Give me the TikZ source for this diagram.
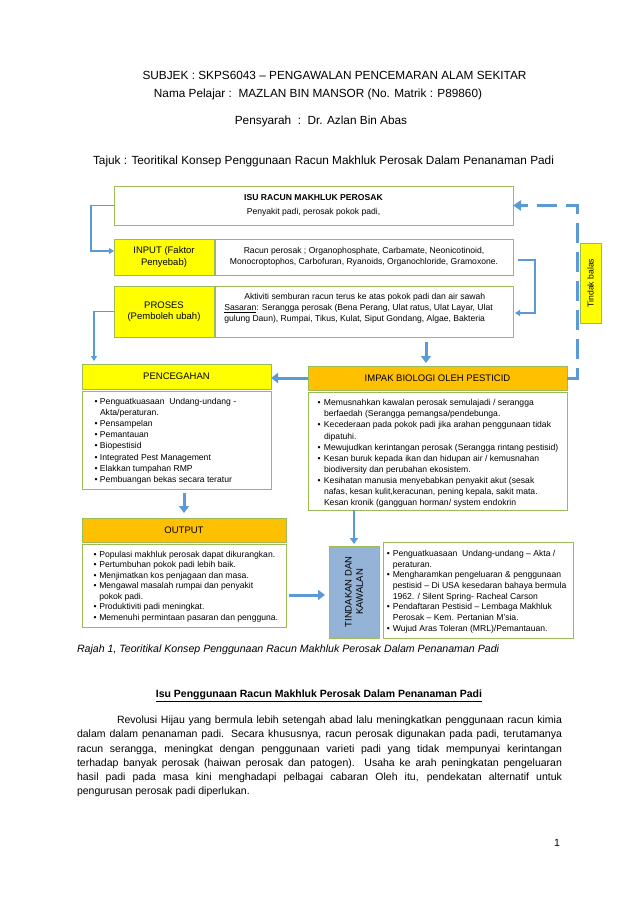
\documentclass[tikz,border=0pt]{standalone}
\usepackage{fontspec}
\setmainfont{Liberation Sans}
\usetikzlibrary{arrows.meta,calc}
\definecolor{yel}{HTML}{FFFF00}
\definecolor{org}{HTML}{FFC000}
\definecolor{grn}{HTML}{9BBB59}
\definecolor{blu}{HTML}{5B9BD5}
\definecolor{tkb}{HTML}{95B3D7}
\newlength\bhang
\newcommand\bitem[1]{\par\hangindent=\bhang\hangafter=1\noindent\makebox[\bhang][l]{\textbullet}#1}
\newcommand\lst[4]{\begin{minipage}[t]{#1}\raggedright\fontsize{8.6}{#2}\selectfont\setlength\bhang{#3}#4\par\end{minipage}}
\newcommand\fh{\fontsize{11.8}{14}\selectfont}
\newcommand\fbody{\fontsize{10.5}{14.2}\selectfont}
\newcommand\fl{\fontsize{9.5}{11.2}\selectfont}
\begin{document}
\begin{tikzpicture}[x=1pt,y=-1pt,
  bx/.style={draw=grn, line width=0.9pt, inner sep=0pt, outer sep=0pt, align=center},
  txt/.style={inner sep=0pt, outer sep=0pt},
  thinarr/.style={draw=blu, line width=1.5pt, -{Triangle[width=6pt,length=5pt]}},
  fatarr/.style={draw=blu, line width=3pt, -{Triangle[width=10pt,length=7pt]}},
  medarr/.style={draw=blu, line width=2.2pt, -{Triangle[width=8pt,length=6pt]}},
  dasharr/.style={draw=blu, line width=3pt, dash pattern=on 20pt off 9pt, -{Triangle[width=10pt,length=8pt]}}]
\fill[white] (0,0) rectangle (638,903);
\path[use as bounding box] (0,0) rectangle (638,903);

% header
\node[txt] (subj) at (334.5,75) {\fh SUBJEK : SKPS6043 – PENGAWALAN PENCEMARAN ALAM SEKITAR};
\node[txt] (nama) at (318,94) {\fh Nama Pelajar :\ \ MAZLAN BIN MANSOR (No. Matrik : P89860)};
\node[txt] (pens) at (321,121) {\fh Pensyarah\ \ :\ \ Dr. Azlan Bin Abas};
\node[txt] (tajuk) at (323.5,161) {\fh Tajuk : Teoritikal Konsep Penggunaan Racun Makhluk Perosak Dalam Penanaman Padi};

% top boxes
\node[bx, minimum width=399, minimum height=39, font=\fontsize{8.6}{13.4}\selectfont] (isu) at (313.5,205.5)
  {\textbf{ISU RACUN MAKHLUK PEROSAK}\\Penyakit padi, perosak pokok padi,};
\node[bx, fill=yel, minimum width=100, minimum height=36, font=\fl] (input) at (164,257) {INPUT (Faktor\\Penyebab)};
\node[bx, minimum width=298, minimum height=36, font=\fontsize{8.6}{11}\selectfont] (inputtxt) at (364,257)
  {Racun perosak ; Organophosphate, Carbamate, Neonicotinoid,\\Monocroptophos, Carbofuran, Ryanoids, Organochloride, Gramoxone.};
\node[bx, fill=yel, minimum width=100, minimum height=51, font=\fl] (proses) at (164,311.5) {PROSES\\(Pemboleh ubah)};
\node[bx, minimum width=298, minimum height=51] (prosestxt) at (364,311.5) {};
\node[txt, anchor=base west] (prosesbody) at (224.3,299.7)
  {\begin{minipage}[t]{286pt}\raggedright\fontsize{8.6}{10.8}\selectfont\hspace*{20pt}Aktiviti semburan racun terus ke atas pokok padi dan air sawah\newline
   \underline{Sasaran}: Serangga perosak (Bena Perang, Ulat ratus, Ulat Layar, Ulat\newline
   gulung Daun), Rumpai, Tikus, Kulat, Siput Gondang, Algae, Bakteria\end{minipage}};

% tindak balas
\node[bx, fill=yel, minimum width=21, minimum height=80] (tb) at (590.5,283) {};
\node[txt, rotate=90] (tbtxt) at (tb.center) {\fontsize{8.6}{10}\selectfont Tindak balas};

% middle row
\node[bx, fill=yel, minimum width=189, minimum height=25, font=\fl] (penc) at (176.5,376.5) {PENCEGAHAN};
\node[bx, minimum width=189, minimum height=98] (pencList) at (176.5,440) {};
\node[txt, anchor=base west] (pencItems) at (94.5,404)
  {\lst{180pt}{11.2pt}{5.5pt}{%
   \bitem{Penguatkuasaan\ \ Undang-undang -\newline Akta/peraturan.}
   \bitem{Pensampelan}
   \bitem{Pemantauan}
   \bitem{Biopestisid}
   \bitem{Integrated Pest Management}
   \bitem{Elakkan tumpahan RMP}
   \bitem{Pembuangan bekas secara teratur}}};

\node[bx, fill=org, minimum width=259, minimum height=24, font=\fl] (impak) at (437.5,378) {IMPAK BIOLOGI OLEH PESTICID};
\node[bx, minimum width=259, minimum height=118] (impakList) at (437.5,451) {};
\node[txt, anchor=base west] (impakItems) at (317.5,405.7)
  {\lst{248pt}{11.1pt}{6.5pt}{%
   \bitem{Memusnahkan kawalan perosak semulajadi / serangga\newline berfaedah (Serangga pemangsa/pendebunga.}
   \bitem{Kecederaan pada pokok padi jika arahan penggunaan tidak\newline dipatuhi.}
   \bitem{Mewujudkan kerintangan perosak (Serangga rintang pestisid)}
   \bitem{Kesan buruk kepada ikan dan hidupan air / kemusnahan\newline biodiversity dan perubahan ekosistem.}
   \bitem{Kesihatan manusia menyebabkan penyakit akut (sesak\newline nafas, kesan kulit,keracunan, pening kepala, sakit mata.\newline Kesan kronik (gangguan horman/ system endokrin}}};

% bottom row
\node[bx, fill=org, minimum width=204, minimum height=24, font=\fl] (output) at (184,530) {OUTPUT};
\node[bx, minimum width=204, minimum height=83] (outList) at (184,585.5) {};
\node[txt, anchor=base west] (outItems) at (93.5,557.3)
  {\lst{190pt}{10.5pt}{5.8pt}{%
   \bitem{Populasi makhluk perosak dapat dikurangkan.}
   \bitem{Pertumbuhan pokok padi lebih baik.}
   \bitem{Menjimatkan kos penjagaan dan masa.}
   \bitem{Mengawal masalah rumpai dan penyakit\newline pokok padi.}
   \bitem{Produktiviti padi meningkat.}
   \bitem{Memenuhi permintaan pasaran dan pengguna.}}};

\node[bx, fill=tkb, minimum width=50, minimum height=92] (tk) at (354,592) {};
\node[txt, rotate=90, align=center, font=\fl] (tktxt) at (tk.center) {TINDAKAN DAN\\KAWALAN};
\node[bx, minimum width=190, minimum height=96] (tkList) at (478,590) {};
\node[txt, anchor=base west] (tkItems) at (386.8,556.3)
  {\lst{184pt}{10.7pt}{6pt}{%
   \bitem{Penguatkuasaan\ \ Undang-undang – Akta /\newline peraturan.}
   \bitem{Mengharamkan pengeluaran \& penggunaan\newline pestisid – Di USA kesedaran bahaya bermula\newline 1962. / Silent Spring- Racheal Carson}
   \bitem{Pendaftaran Pestisid – Lembaga Makhluk\newline Perosak – Kem. Pertanian M'sia.}
   \bitem{Wujud Aras Toleran (MRL)/Pemantauan.}}};

% connectors
\coordinate (ax) at (426,0);
\draw[thinarr] (isu.west) -- ++(-23,0) |- ([yshift=6pt]input.west);
\draw[thinarr] (proses.west) -| ($(penc.north west)+(12,-3)$);
\draw[thinarr] ($(inputtxt.east)+(5,3)$) -- ++(17,0) |- ($(prosestxt.east)+(2,1.5)$);
\draw[dasharr] (impak.east) -- ++(10,0) |- (isu.east);
\draw[fatarr] ($(prosestxt.south -| ax)+(0,5)$) -- ($(impak.north -| ax)+(0,-3)$);
\draw[fatarr] (impak.west) -- (impak.west -| penc.east);
\draw[fatarr] ($(pencList.south -| output.north)+(0,4)$) -- ($(output.north)+(0,-5)$);
\draw[fatarr] ($(outList.east |- tk.west)+(3,3)$) -- ($(tk.west)+(-4,3)$);
\draw[medarr] (impakList.south -| tk.north) -- ($(tk.north)+(0,-2)$);

% caption and text
\node[txt, anchor=west] (cap) at (77,650) {\fontsize{10.6}{12}\selectfont\itshape Rajah 1, Teoritikal Konsep Penggunaan Racun Makhluk Perosak Dalam Penanaman Padi};
\node[txt] (head) at (319,696) {\fbody\bfseries\underline{Isu Penggunaan Racun Makhluk Perosak Dalam Penanaman Padi}};
\node[txt, anchor=north west, text width=485, align=justify] (para) at (77,716)
  {\fbody\hspace*{40pt}Revolusi Hijau yang bermula lebih setengah abad lalu meningkatkan penggunaan racun kimia\linebreak
   dalam dalam penanaman padi. Secara khususnya, racun perosak digunakan pada padi, terutamanya\linebreak
   racun serangga, meningkat dengan penggunaan varieti padi yang tidak mempunyai kerintangan\linebreak
   terhadap banyak perosak (haiwan perosak dan patogen). Usaha ke arah peningkatan pengeluaran\linebreak
   hasil padi pada masa kini menghadapi pelbagai cabaran Oleh itu, pendekatan alternatif untuk\linebreak
   pengurusan perosak padi diperlukan.\par};
\node[txt] (pg) at (557,843) {\fbody 1};
\end{tikzpicture}
\end{document}
